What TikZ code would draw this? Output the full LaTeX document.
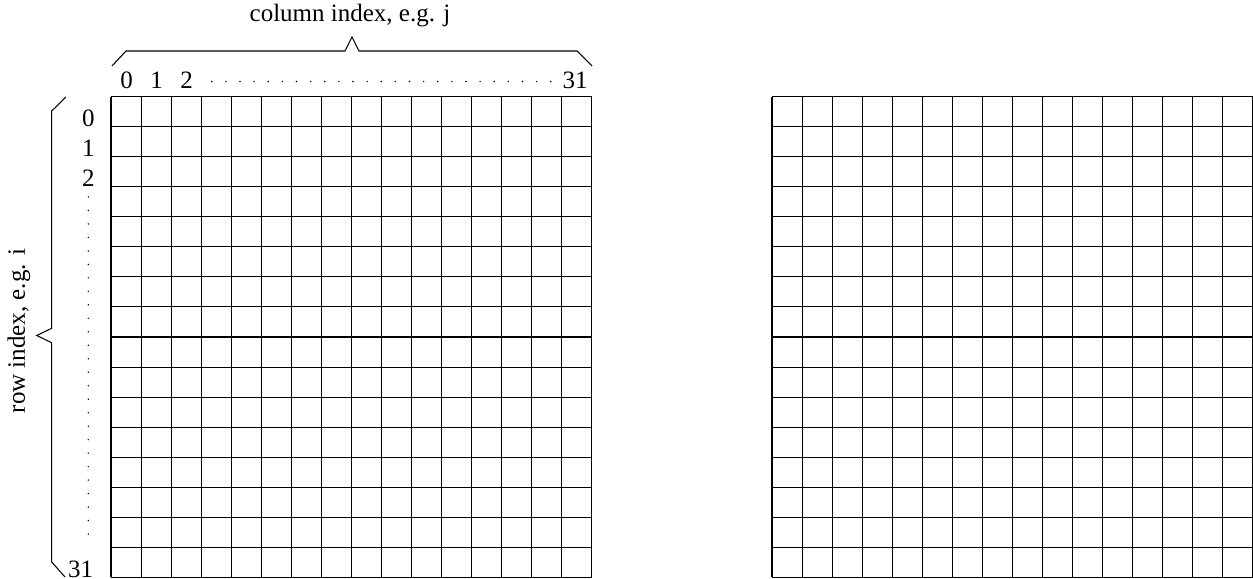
\documentclass[tikz,border=0pt]{standalone}
\usepackage{fontspec}
\setmainfont{Liberation Serif}
\usetikzlibrary{positioning}
\tikzset{
  gridline/.style={line width=0.42pt,black},
  bracket/.style={line width=0.42pt,black,line join=miter},
  idx/.style={inner sep=0pt,font=\fontsize{10}{12}\selectfont},
  dotmark/.style={black}
}
\begin{document}
\begin{tikzpicture}[x=0.4pt,y=-0.4pt]
  \useasboundingbox (0,0) rectangle (1253,579);
  % the two 16x16 grids
  \foreach \xo in {111,772}{
    \foreach \k in {0,...,16}{
      \draw[gridline] (\xo+\k*30.05,96.6) -- (\xo+\k*30.05,577.4);
      \draw[gridline] (\xo,96.6+\k*30.05) -- (\xo+480.8,96.6+\k*30.05);
    }
  }
  % column indices
  \foreach \name/\lbl/\x in {c0/0/126.5,c1/1/156.5,c2/2/186.5,c31/31/575}{
    \node[idx,anchor=base] (\name) at (\x,89) {\lbl};
  }
  \foreach \d in {0,...,24}{
    \fill[dotmark] (211.7+\d*14.125,81.5) circle (0.8);
  }
  % row indices
  \foreach \name/\lbl/\y in {r0/0/126,r1/1/156,r2/2/186}{
    \node[idx,anchor=base east] (\name) at (95,\y) {\lbl};
  }
  \node[idx,anchor=base east] (r31) at (93.5,577) {31};
  \foreach \d in {0,...,25}{
    \fill[dotmark] (88.3,197+\d*13.48) circle (0.8);
  }
  % braces
  \coordinate (cb1) at (112,66);
  \coordinate (cb2) at (126,51);
  \coordinate (ctip) at (352,37);
  \coordinate (cb3) at (577,51);
  \coordinate (cb4) at (592,66);
  \draw[bracket] (cb1) -- (cb2) -- (345,51) -- (ctip) -- (359,51) -- (cb3) -- (cb4);
  \node[idx,anchor=base] (colname) at (350,21.5) {column index, e.g. j};
  \coordinate (rb1) at (66,97);
  \coordinate (rb2) at (51.7,111);
  \coordinate (rtip) at (36.7,335.5);
  \coordinate (rb3) at (51.7,562);
  \coordinate (rb4) at (65,577);
  \draw[bracket] (rb1) -- (rb2) -- (51.7,328.3) -- (rtip) -- (51.7,342.7) -- (rb3) -- (rb4);
  \node[idx,anchor=center,rotate=90] (rowname) at (19,331) {row index, e.g. i};
\end{tikzpicture}
\end{document}
